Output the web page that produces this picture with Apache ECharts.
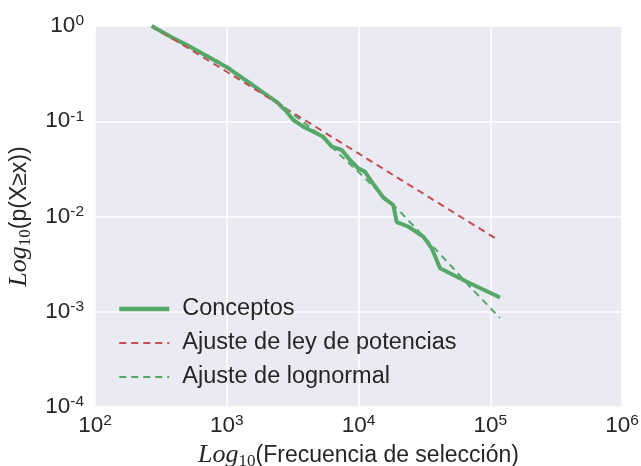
<!DOCTYPE html>
<html>
<head>
<meta charset="utf-8">
<script src="https://cdn.jsdelivr.net/npm/echarts@6/dist/echarts.min.js"></script>
<style>html,body{margin:0;padding:0;background:#fff}#c{width:641px;height:466px}</style>
</head>
<body>
<div id="c"></div>
<script>
// Empirical CCDF "Conceptos"
const concX = [269, 393, 526, 705, 986, 1416, 1892, 2393, 2851, 3199, 3811, 4539, 5408, 6266, 7464, 8610, 9954, 11194, 12589, 15417, 18365, 19498, 23768, 31046, 35975, 41591, 52481, 70146, 118580];
const concY = [1.0, 0.743, 0.607, 0.484, 0.374, 0.265, 0.200, 0.160, 0.126, 0.103, 0.0877, 0.0776, 0.0687, 0.0541, 0.0499, 0.0392, 0.0321, 0.0295, 0.0232, 0.0158, 0.0132, 0.00875, 0.00785, 0.00614, 0.00463, 0.00286, 0.00243, 0.00199, 0.00141];
// Power-law fit
const powX = [271, 1000, 10000, 110000];
const powY = [1.0, 0.331, 0.0459, 0.00587];
// Lognormal fit
const lognX = [271, 526, 1000, 1884, 3020, 5105, 7244, 10568, 14555, 21281, 34914, 52481, 70146, 118580];
const lognY = [1.0, 0.617, 0.380, 0.203, 0.125, 0.0718, 0.0443, 0.0273, 0.0177, 0.0108, 0.00523, 0.00286, 0.00183, 0.00086];
// Tick label exponents
const xTickExp = [2, 3, 4, 5, 6];
const yTickExp = [0, -1, -2, -3, -4];
const seriesNames = ['Conceptos', 'Ajuste de ley de potencias', 'Ajuste de lognormal'];

const pair = (xs, ys) => xs.map((x, i) => [x, ys[i]]);
const FONT = '"Liberation Sans", Arial, sans-serif';
const SERIF = '"Liberation Serif", "DejaVu Serif", serif';
const TXT = '#262626';
const GREEN = '#55A868', RED = '#C44E52';

const tickRich = {
  b: {fontSize: 22.5, fontFamily: FONT, color: TXT, lineHeight: 26},
  s: {fontSize: 15.5, fontFamily: FONT, color: TXT, lineHeight: 22, verticalAlign: 'top'}
};
const fmt = (exps) => (v) => {
  const e = Math.round(Math.log10(v));
  if (exps.indexOf(e) < 0) return '';
  return '{b|10}{s|' + (e < 0 ? '-' + (-e) : e) + '}';
};
const nameRich = {
  i: {fontSize: 26, fontFamily: SERIF, fontStyle: 'italic', color: TXT, lineHeight: 30},
  sub: {fontSize: 17, fontFamily: SERIF, color: TXT, lineHeight: 24, verticalAlign: 'bottom'},
  n: {fontSize: 23, fontFamily: FONT, color: TXT, lineHeight: 30}
};

const chart = echarts.init(document.getElementById('c'), null, {renderer: 'canvas'});
chart.setOption({
  animation: false,
  backgroundColor: '#ffffff',
  grid: {left: 95, right: 19, top: 26, bottom: 59, backgroundColor: '#EAEAF2', show: true, borderWidth: 0,
         containLabel: false, outerBoundsMode: 'none'},
  xAxis: {
    type: 'log', logBase: 10, min: 100, max: 1000000,
    axisLine: {show: false}, axisTick: {show: false},
    splitLine: {show: true, lineStyle: {color: '#ffffff', width: 1.5}},
    minorSplitLine: {show: false},
    axisLabel: {margin: 6, formatter: fmt(xTickExp), rich: tickRich},
    name: '{i|Log}{sub|10}{n|(Frecuencia de selección)}',
    nameLocation: 'middle', nameGap: 31,
    nameTextStyle: {rich: nameRich}
  },
  yAxis: {
    type: 'log', logBase: 10, min: 0.0001, max: 1,
    axisLine: {show: false}, axisTick: {show: false},
    splitLine: {show: true, lineStyle: {color: '#ffffff', width: 1.5}},
    minorSplitLine: {show: false},
    axisLabel: {margin: 11, formatter: fmt(yTickExp), rich: tickRich},
    name: '{i|Log}{sub|10}{n|(p(X≥x))}',
    nameLocation: 'middle', nameGap: 54, nameRotate: 90,
    nameTextStyle: {rich: nameRich}
  },
  legend: {
    left: 112, top: 292, orient: 'vertical',
    itemWidth: 50, itemHeight: 14, itemGap: 10,
    itemStyle: {opacity: 0},
    textStyle: {fontSize: 23.5, fontFamily: FONT, color: TXT, lineHeight: 24, padding: [0, 0, 0, 8]},
    data: [
      {name: seriesNames[0], lineStyle: {width: 4.5}},
      {name: seriesNames[1], lineStyle: {width: 2}},
      {name: seriesNames[2], lineStyle: {width: 2}}
    ]
  },
  series: [
    {name: seriesNames[0], type: 'line', data: pair(concX, concY), showSymbol: false, symbol: 'none',
     lineStyle: {color: GREEN, width: 4}, itemStyle: {color: GREEN}},
    {name: seriesNames[1], type: 'line', data: pair(powX, powY), showSymbol: false, symbol: 'none',
     lineStyle: {color: RED, width: 2, type: [7, 5]}, itemStyle: {color: RED}},
    {name: seriesNames[2], type: 'line', data: pair(lognX, lognY), showSymbol: false, symbol: 'none',
     lineStyle: {color: GREEN, width: 2, type: [7, 5]}, itemStyle: {color: GREEN}}
  ]
});
</script>
</body>
</html>
